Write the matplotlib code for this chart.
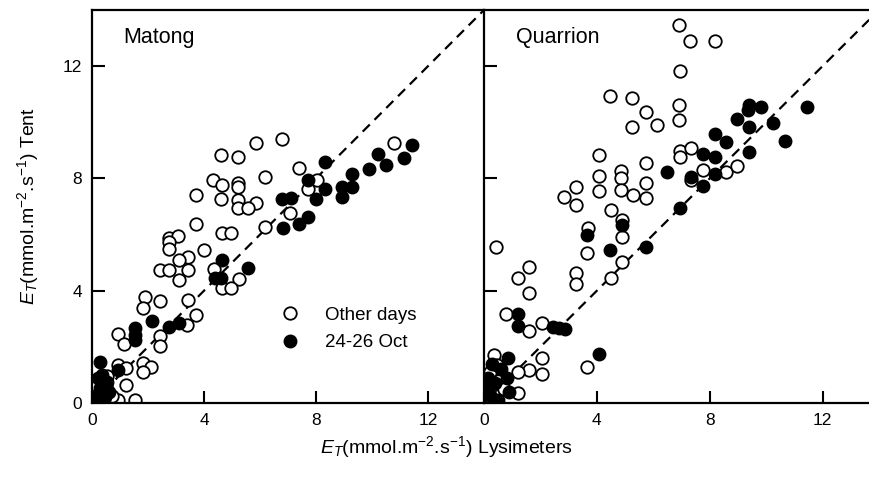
import matplotlib
matplotlib.use("Agg")
import matplotlib.pyplot as plt
from matplotlib.lines import Line2D

plt.rcParams['font.family'] = ['Liberation Sans', 'DejaVu Sans']
plt.rcParams['mathtext.fontset'] = 'custom'
plt.rcParams['mathtext.rm'] = 'Liberation Sans'
plt.rcParams['mathtext.it'] = 'Liberation Sans:italic'

# ---------------- Data ----------------
panel_names = ["Matong", "Quarrion"]
series_labels = ["Other days", "24-26 Oct"]
tick_values = [0, 4, 8, 12]

matong_other_x = [6.80, 5.85, 4.60, 5.23, 10.8, 7.39, 6.17, 4.31, 4.63, 5.23, 5.23, 3.70, 4.60, 5.23,
                  5.85, 5.23, 5.57, 8.05, 7.70, 7.07, 3.71, 6.18, 4.63, 4.97, 2.76, 3.07, 2.74, 2.74,
                  4.01, 3.42, 3.09, 2.44, 2.74, 3.42, 3.09, 4.34, 5.26, 4.63, 4.96, 1.88, 1.82, 2.44,
                  3.42, 3.72, 3.39, 2.44, 2.44, 0.93, 1.16, 1.82, 2.11, 1.82, 0.93, 1.22, 1.22, 0.93,
                  1.52, 0.55, 0.30, 0.50, 0.15, 0.40, 0.70, 0.20]
matong_other_y = [9.41, 9.25, 8.82, 8.78, 9.27, 8.38, 8.05, 7.96, 7.75, 7.84, 7.68, 7.40, 7.27, 7.22,
                  7.13, 6.93, 6.96, 7.95, 7.64, 6.76, 6.37, 6.28, 6.04, 6.04, 5.87, 5.95, 5.74, 5.50,
                  5.45, 5.21, 5.09, 4.73, 4.73, 4.73, 4.38, 4.79, 4.42, 4.08, 4.08, 3.79, 3.37, 3.63,
                  3.67, 3.14, 2.78, 2.37, 2.04, 2.45, 2.11, 1.42, 1.30, 1.09, 1.36, 1.24, 0.65, 0.12,
                  0.12, 0.95, 0.30, 0.60, 0.65, 0.05, 0.25, 0.10]

matong_oct_x = [11.42, 10.23, 11.13, 10.50, 9.88, 9.28, 8.33, 7.70, 8.33, 8.92, 9.28, 8.92, 8.01,
                6.80, 7.10, 7.70, 7.38, 6.82, 4.63, 4.39, 4.60, 5.58, 2.15, 2.74, 3.09, 1.52, 1.52,
                1.52, 0.27, 0.93, 0.10, 0.30, 0.45, 0.20, 0.55, 0.15, 0.60, 0.35]
matong_oct_y = [9.18, 8.88, 8.72, 8.47, 8.33, 8.17, 8.57, 7.93, 7.64, 7.69, 7.69, 7.35, 7.25,
                7.28, 7.30, 6.63, 6.39, 6.24, 5.09, 4.46, 4.46, 4.80, 2.92, 2.72, 2.84, 2.66, 2.43,
                2.25, 1.46, 1.18, 0.25, 0.55, 0.20, 0.90, 0.75, 0.05, 0.40, 1.00]

quarrion_other_x = [6.91, 7.29, 8.17, 6.93, 4.47, 5.25, 5.73, 6.91, 6.91, 5.25, 6.13, 4.07, 5.73,
                    6.93, 6.93, 7.35, 7.76, 8.59, 8.96, 4.07, 4.07, 4.87, 4.87, 4.87, 5.27, 5.73,
                    5.73, 3.25, 2.85, 3.26, 7.35, 4.51, 4.90, 3.68, 4.90, 0.41, 3.65, 4.90, 4.51,
                    1.61, 1.20, 1.61, 3.27, 3.27, 0.79, 1.61, 2.06, 3.65, 2.06, 2.06, 1.61, 1.20,
                    1.20, 0.37, 0.30, 0.50, 0.20, 0.70, 0.45, 0.10]
quarrion_other_y = [13.47, 12.88, 12.91, 11.82, 10.92, 10.87, 10.36, 10.63, 10.09, 9.83, 9.89, 8.82,
                    8.55, 8.97, 8.76, 9.09, 8.29, 8.23, 8.44, 8.07, 7.55, 8.25, 8.02, 7.59, 7.40,
                    7.82, 7.31, 7.70, 7.35, 7.05, 7.95, 6.87, 6.51, 6.22, 5.92, 5.54, 5.33, 5.03,
                    4.44, 4.85, 4.44, 3.91, 4.62, 4.24, 3.16, 2.57, 2.84, 1.27, 1.62, 1.04, 1.16,
                    1.12, 0.36, 1.72, 0.15, 0.80, 1.10, 0.50, 1.35, 0.50]

quarrion_oct_x = [11.45, 9.41, 9.83, 9.36, 8.96, 10.24, 9.38, 10.66, 8.19, 8.57, 9.38, 7.76, 8.17,
                  6.50, 7.32, 8.17, 7.76, 6.93, 3.66, 4.90, 4.47, 5.73, 1.20, 1.20, 2.46, 2.66,
                  2.86, 4.07, 0.84, 0.20, 0.40, 0.60, 0.15, 0.80, 0.50, 0.30, 0.90, 0.10]
quarrion_oct_y = [10.56, 10.60, 10.56, 10.42, 10.10, 9.96, 9.82, 9.35, 9.57, 9.29, 8.94, 8.88, 8.77,
                  8.23, 8.05, 8.16, 7.73, 6.95, 6.00, 6.33, 5.45, 5.56, 3.16, 2.75, 2.70, 2.67,
                  2.63, 1.74, 1.60, 0.30, 0.70, 1.20, 0.90, 0.90, 0.10, 1.40, 0.40, 0.60]

panels = [
    (matong_other_x, matong_other_y, matong_oct_x, matong_oct_y),
    (quarrion_other_x, quarrion_other_y, quarrion_oct_x, quarrion_oct_y),
]

# ---------------- Figure ----------------
W, H = 870, 479
fig = plt.figure(figsize=(W / 100, H / 100), dpi=100)
bottom = (H - 403) / H
height = 393 / H
ax1 = fig.add_axes([92 / W, bottom, 392 / W, height])
ax2 = fig.add_axes([484 / W, bottom, 395 / W, height])

ms = 9
for i, (ax, name, (ox, oy, fx, fy)) in enumerate(zip([ax1, ax2], panel_names, panels)):
    ax.set_xlim(0, 14)
    ax.set_ylim(0, 14)
    ax.plot([0, 14], [0, 14], color='black', lw=1.6, dashes=(4.5, 3.0), zorder=1)
    ax.plot(ox, oy, linestyle='none', marker='o', ms=ms, mfc='white', mec='black', mew=1.3, zorder=2)
    ax.plot(fx, fy, linestyle='none', marker='o', ms=ms, mfc='black', mec='black', mew=1.0, zorder=3)
    ax.set_xticks(tick_values)
    ax.set_yticks(tick_values)
    ax.tick_params(direction='in', length=9, width=1.5, labelsize=12.5, pad=7)
    for s in ax.spines.values():
        s.set_linewidth(1.6)
    ax.text(0.08, 0.917, name, transform=ax.transAxes, fontsize=15.5, ha='left', va='baseline')

ax2.tick_params(axis='y', labelleft=False)
ax2.spines['right'].set_visible(False)
ax1.spines['right'].set_visible(False)

handles = [
    Line2D([], [], linestyle='none', marker='o', ms=ms, mfc='white', mec='black', mew=1.3),
    Line2D([], [], linestyle='none', marker='o', ms=ms, mfc='black', mec='black'),
]
ax1.legend(handles, series_labels, loc='upper left', bbox_to_anchor=(0.481, 0.245),
           frameon=False, fontsize=13.5, borderpad=0, handlelength=1.0,
           handletextpad=1.37, labelspacing=0.55, borderaxespad=0)

fig.text(446 / W, (H - 447) / H, r"$E_T$(mmol.m$^{-2}$.s$^{-1}$) Lysimeters",
         fontsize=14, ha='center', va='center')
fig.text(28 / W, (H - 206) / H, r"$E_T$(mmol.m$^{-2}$.s$^{-1}$) Tent",
         fontsize=14, ha='center', va='center', rotation=90)

fig.savefig("out.png", dpi=100)
